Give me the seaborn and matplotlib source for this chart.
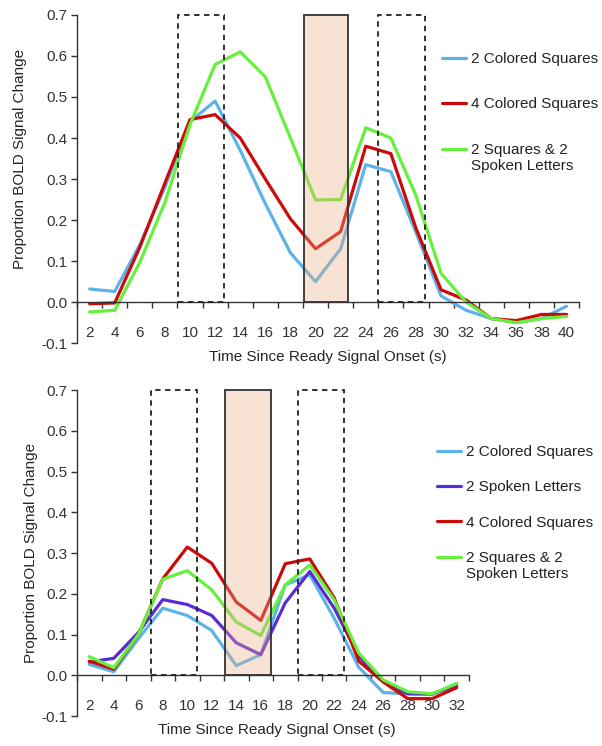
import numpy as np
import pandas as pd
import matplotlib
matplotlib.use('Agg')
import matplotlib.pyplot as plt
import matplotlib.ticker as ticker
from matplotlib.patches import Rectangle
from matplotlib.lines import Line2D
from matplotlib.legend_handler import HandlerLine2D
import seaborn as sns

# ---- data ----
top_time = [2, 4, 6, 8, 10, 12, 14, 16, 18, 20, 22, 24, 26, 28, 30, 32, 34, 36, 38, 40]
top_2sq = [0.032, 0.026, 0.14, 0.28, 0.44, 0.49, 0.37, 0.24, 0.12, 0.05, 0.13, 0.335, 0.318, 0.17, 0.015, -0.02, -0.04, -0.05, -0.04, -0.01]
top_4sq = [-0.004, -0.002, 0.134, 0.29, 0.445, 0.457, 0.40, 0.30, 0.203, 0.13, 0.172, 0.38, 0.362, 0.18, 0.03, 0.005, -0.04, -0.045, -0.03, -0.03]
top_2sq2let = [-0.024, -0.02, 0.097, 0.243, 0.433, 0.579, 0.61, 0.549, 0.40, 0.249, 0.25, 0.425, 0.40, 0.26, 0.07, 0.0, -0.04, -0.05, -0.04, -0.035]

bot_time = [2, 4, 6, 8, 10, 12, 14, 16, 18, 20, 22, 24, 26, 28, 30, 32]
bot_2sq = [0.027, 0.009, 0.09, 0.165, 0.147, 0.11, 0.024, 0.051, 0.222, 0.247, 0.14, 0.02, -0.042, -0.045, -0.047, -0.02]
bot_2let = [0.033, 0.042, 0.105, 0.186, 0.174, 0.147, 0.08, 0.051, 0.178, 0.255, 0.165, 0.047, -0.015, -0.045, -0.045, -0.025]
bot_4sq = [0.035, 0.015, 0.10, 0.237, 0.315, 0.275, 0.18, 0.135, 0.274, 0.286, 0.19, 0.035, -0.016, -0.057, -0.057, -0.03]
bot_2sq2let = [0.046, 0.019, 0.10, 0.236, 0.257, 0.21, 0.131, 0.098, 0.222, 0.271, 0.185, 0.055, -0.011, -0.04, -0.045, -0.02]

# boxes (time in s): dashed = encoding / probe windows, shaded = delay
top_dashed = [(9.05, 12.7), (25.0, 28.7)]
top_shaded = (19.05, 22.6)
bot_dashed = [(7.05, 10.8), (19.05, 22.8)]
bot_shaded = (13.05, 16.8)

LBL_2SQ = '2 Colored Squares'
LBL_2LET = '2 Spoken Letters'
LBL_4SQ = '4 Colored Squares'
LBL_MIX = '2 Squares & 2\nSpoken Letters'

palette = {LBL_2SQ: '#5DB3E8', LBL_2LET: '#5A2BD6', LBL_4SQ: '#CC0A0A', LBL_MIX: '#66F03A'}

sns.set_style('white')
plt.rcParams['font.family'] = ['Liberation Sans', 'DejaVu Sans']
plt.rcParams['font.size'] = 11
plt.rcParams['axes.edgecolor'] = '#333333'
plt.rcParams['xtick.color'] = '#333333'
plt.rcParams['ytick.color'] = '#333333'
plt.rcParams['text.color'] = '#222222'


class HandlerFirstLine(HandlerLine2D):
    # put the legend line next to the first text line of a two-line label
    def create_artists(self, legend, orig_handle, xdescent, ydescent,
                       width, height, fontsize, trans):
        return super().create_artists(legend, orig_handle, xdescent,
                                      ydescent - 1.2 * fontsize, width, height,
                                      fontsize, trans)


def make_long(time, series):
    frames = []
    for name, vals in series:
        frames.append(pd.DataFrame({'time': time, 'value': vals, 'cond': name}))
    return pd.concat(frames, ignore_index=True)


def style_axes(ax, xmax, dashed, shaded):
    ax.set_xlim(1, xmax)
    ax.set_ylim(-0.1, 0.7)
    for s in ['top', 'right']:
        ax.spines[s].set_visible(False)
    ax.spines['bottom'].set_position(('data', 0))
    ax.spines['left'].set_bounds(-0.1, 0.7)
    ax.spines['left'].set_linewidth(1.0)
    ax.spines['bottom'].set_linewidth(1.0)

    ax.yaxis.set_major_locator(ticker.MultipleLocator(0.1))
    ax.yaxis.set_major_formatter(ticker.FormatStrFormatter('%.1f'))
    ax.tick_params(axis='y', direction='out', length=4, width=1, left=True, pad=3)

    evens = list(range(2, xmax, 2))
    ax.set_xticks(evens)
    ax.set_xticklabels([str(v) for v in evens])
    ax.set_xticks(list(range(1, xmax + 1, 2)), minor=True)
    ax.tick_params(axis='x', which='major', length=0, pad=17, bottom=True)
    ax.tick_params(axis='x', which='minor', direction='out', length=4, width=1, bottom=True)

    for x0, x1 in dashed:
        ax.add_patch(Rectangle((x0, 0), x1 - x0, 0.7, fill=False, edgecolor='#222222',
                               linestyle=(0, (3, 2.5)), linewidth=1.3, zorder=4, clip_on=False))
    x0, x1 = shaded
    ax.add_patch(Rectangle((x0, 0), x1 - x0, 0.7, facecolor=(0.93, 0.68, 0.52, 0.35),
                           edgecolor='#333333', linewidth=1.3, zorder=5, clip_on=False))

    ax.set_xlabel('Time Since Ready Signal Onset (s)')
    ax.set_ylabel('Proportion BOLD Signal Change')


fig = plt.figure(figsize=(6.02, 7.46), dpi=100)

# ---- top panel ----
ax1 = fig.add_axes([0.128, 0.540, 0.834, 0.440])
top_order = [LBL_2SQ, LBL_4SQ, LBL_MIX]
df_top = make_long(top_time, [(LBL_2SQ, top_2sq), (LBL_4SQ, top_4sq), (LBL_MIX, top_2sq2let)])
sns.lineplot(data=df_top, x='time', y='value', hue='cond', hue_order=top_order,
             palette=palette, linewidth=2.3, legend=False, ax=ax1)
style_axes(ax1, 41, top_dashed, top_shaded)
ax1.xaxis.set_label_coords(0.5, -0.02)
ax1.yaxis.set_label_coords(-0.099, 0.56)

h1 = [Line2D([0], [0], color=palette[k], lw=2.3) for k in top_order]
fig.legend(h1, top_order, loc='upper left', bbox_to_anchor=(442 / 602, 1 - 52 / 746),
           frameon=False, borderpad=0, borderaxespad=0, handlelength=1.6,
           handletextpad=0.3, labelspacing=2.05, fontsize=11,
           handler_map={h1[-1]: HandlerFirstLine()})

# ---- bottom panel ----
ax2 = fig.add_axes([0.128, 0.040, 0.651, 0.437])
bot_order = [LBL_2SQ, LBL_2LET, LBL_4SQ, LBL_MIX]
df_bot = make_long(bot_time, [(LBL_2SQ, bot_2sq), (LBL_2LET, bot_2let),
                              (LBL_4SQ, bot_4sq), (LBL_MIX, bot_2sq2let)])
sns.lineplot(data=df_bot, x='time', y='value', hue='cond', hue_order=bot_order,
             palette=palette, linewidth=2.3, legend=False, ax=ax2)
style_axes(ax2, 33, bot_dashed, bot_shaded)
ax2.xaxis.set_label_coords(0.51, -0.02)
ax2.yaxis.set_label_coords(-0.099, 0.5)

h2 = [Line2D([0], [0], color=palette[k], lw=2.3) for k in bot_order]
fig.legend(h2, bot_order, loc='upper left', bbox_to_anchor=(437 / 602, 1 - 445 / 746),
           frameon=False, borderpad=0, borderaxespad=0, handlelength=1.6,
           handletextpad=0.3, labelspacing=1.4, fontsize=11,
           handler_map={h2[-1]: HandlerFirstLine()})

fig.savefig('out.png', dpi=100)
